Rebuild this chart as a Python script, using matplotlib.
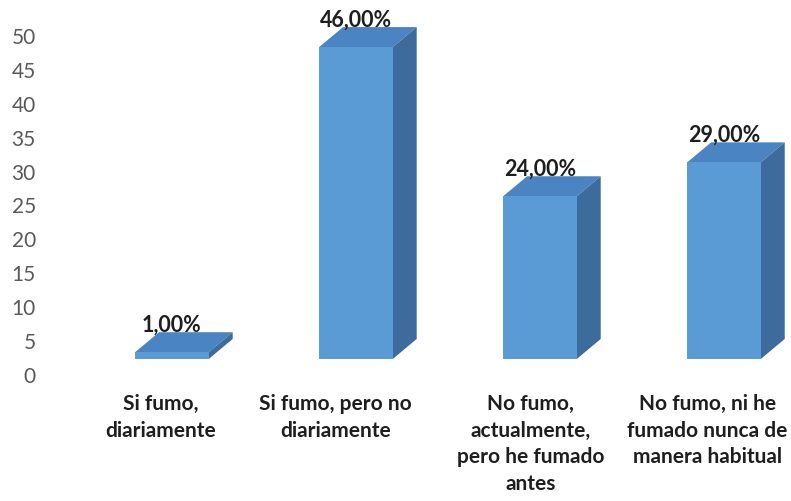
import numpy as np
import matplotlib.pyplot as plt
from matplotlib.patches import Polygon

categories = ['Si fumo,\ndiariamente',
              'Si fumo, pero no\ndiariamente',
              'No fumo,\nactualmente,\npero he fumado\nantes',
              'No fumo, ni he\nfumado nunca de\nmanera habitual']
values = [1, 46, 24, 29]
yticks = list(range(0, 51, 5))

front_c = '#5b9bd5'
top_c = '#4a84c2'
side_c = '#3d6b9c'
text_c = '#1e1e1e'

plt.rcParams['font.family'] = ['Lato', 'DejaVu Sans']

fig = plt.figure(figsize=(7.91, 5.01), dpi=100)
ax = fig.add_axes([40 / 791, 1 - 380 / 501, 1 - 40 / 791, 370 / 501])

x = np.arange(len(values))
w = 0.40      # bar width (category units)
base = 2.36   # front face sits a little above the axis zero
dx, dy = 0.13, 2.95  # depth of the 3d boxes

ax.bar(x, values, width=w, bottom=base, color=front_c, zorder=3)
for xi, v in zip(x, values):
    top = base + v
    ax.add_patch(Polygon([(xi - w / 2, top), (xi + w / 2, top),
                          (xi + w / 2 + dx, top + dy), (xi - w / 2 + dx, top + dy)],
                         closed=True, facecolor=top_c, edgecolor='none', zorder=2))
    ax.add_patch(Polygon([(xi + w / 2, base), (xi + w / 2 + dx, base + dy),
                          (xi + w / 2 + dx, top + dy), (xi + w / 2, top)],
                         closed=True, facecolor=side_c, edgecolor='none', zorder=2))
    ax.text(xi + 0.0, top + dy - 0.5, f'{v:.2f}%'.replace('.', ','),
            ha='center', va='bottom', fontsize=15.5, fontweight='bold',
            color=text_c, zorder=4)

label_dx = [-0.06, -0.11, -0.05, -0.09]
for xi, off, lab in zip(x, label_dx, categories):
    ax.text(xi + off, -2.8, lab, ha='center', va='top', fontsize=15,
            fontweight='bold', color=text_c, linespacing=1.42, clip_on=False)

ax.set_xlim(-0.717, 3.364)
ax.set_ylim(-0.74, 53.83)
ax.set_yticks(yticks)
ax.set_xticks([])
ax.tick_params(axis='y', length=0, pad=3, labelsize=15, labelcolor='#595959')
for s in ax.spines.values():
    s.set_visible(False)

fig.savefig('out.png', dpi=100)
